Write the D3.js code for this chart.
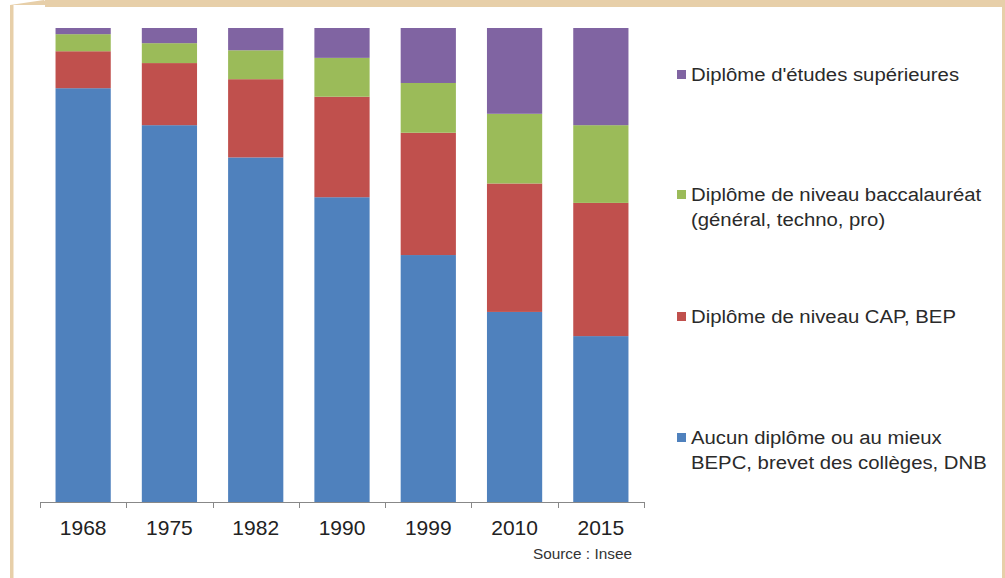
<!DOCTYPE html>
<html><head><meta charset="utf-8">
<script src="https://cdn.jsdelivr.net/npm/d3@7"></script>
<style>body{margin:0;background:#fff;}svg{display:block;font-family:"Liberation Sans",Arial,sans-serif;}</style>
</head><body>
<script>
const years = ["1968","1975","1982","1990","1999","2010","2015"];
const seriesNames = ["Aucun diplôme ou au mieux\nBEPC, brevet des collèges, DNB","Diplôme de niveau CAP, BEP","Diplôme de niveau baccalauréat\n(général, techno, pro)","Diplôme d'études supérieures"];
const aucun = [87.3, 79.5, 72.7, 64.3, 52.1, 40.1, 35.0];
const cap   = [7.8, 13.1, 16.5, 21.2, 25.8, 27.1, 28.1];
const bac   = [3.6, 4.2, 6.1, 8.2, 10.5, 14.7, 16.4];
const sup   = [1.3, 3.2, 4.7, 6.3, 11.6, 18.1, 20.5];
const colors = ["#4f81bd","#c0504d","#9bbb59","#8064a2"];
const sourceText = "Source : Insee";

const W = 1005, H = 578;
const svg = d3.select("body").append("svg").attr("width", W).attr("height", H);

// frame
const frameCol = "#e7cfa9";
svg.append("rect").attr("x",45).attr("y",0).attr("width",W-45).attr("height",7).attr("fill",frameCol);
svg.append("path").attr("d","M10,5 L48,5 L44,0 Z").attr("fill",frameCol);
svg.append("rect").attr("x",10).attr("y",5).attr("width",3.5).attr("height",H-5).attr("fill",frameCol);
svg.append("rect").attr("x",1002).attr("y",5).attr("width",3).attr("height",H-5).attr("fill",frameCol);

const x = d3.scaleBand().domain(years).range([40, 644]).paddingInner(0.36).paddingOuter(0.18);
const y = d3.scaleLinear().domain([0, 100]).range([502, 28]);

const rows = years.map((yr, i) => ({year: yr, s0: aucun[i], s1: cap[i], s2: bac[i], s3: sup[i]}));
const stack = d3.stack().keys(["s0","s1","s2","s3"]).offset(d3.stackOffsetExpand);
const series = stack(rows);

svg.append("g").selectAll("g").data(series).join("g")
  .attr("fill", (d, i) => colors[i])
  .selectAll("rect").data(d => d).join("rect")
  .attr("x", d => x(d.data.year))
  .attr("width", x.bandwidth())
  .attr("y", d => y(d[1]*100))
  .attr("height", d => y(d[0]*100) - y(d[1]*100));

// axis
const axisG = svg.append("g").attr("transform","translate(0,502)");
axisG.append("line").attr("x1",40).attr("x2",644).attr("y1",0.5).attr("y2",0.5).attr("stroke","#888").attr("stroke-width",1);
const bounds = years.map(yr => x(yr) - x.step()*x.paddingInner()/2).concat([644]);
bounds[0] = 40;
axisG.selectAll("line.t").data(bounds).join("line").attr("class","t")
  .attr("x1", d => Math.round(d)+0.5).attr("x2", d => Math.round(d)+0.5)
  .attr("y1", 0).attr("y2", 6).attr("stroke","#888");
axisG.selectAll("text").data(years).join("text")
  .attr("transform", d => `translate(${x(d) + x.bandwidth()/2},33) scale(1.05,1)`)
  .attr("text-anchor","middle").attr("font-size",20).attr("fill","#222").text(d => d);

svg.append("text").attr("transform","translate(632,559) scale(1.06,1)").attr("text-anchor","end")
  .attr("font-size",14.5).attr("fill","#333").text(sourceText);

// legend (top to bottom: reversed)
const legendY = [81, 201, 323, 444];
const order = [3,2,1,0];
order.forEach((si, k) => {
  const g = svg.append("g");
  g.append("rect").attr("x",677).attr("y",legendY[k]-11).attr("width",9).attr("height",9).attr("fill",colors[si]);
  const lines = seriesNames[si].split("\n");
  lines.forEach((ln, j) => {
    g.append("text").attr("transform",`translate(691,${legendY[k] + j*25}) scale(1.07,1)`)
      .attr("font-size",19).attr("fill","#2a2a2a").text(ln);
  });
});
</script>
</body></html>
